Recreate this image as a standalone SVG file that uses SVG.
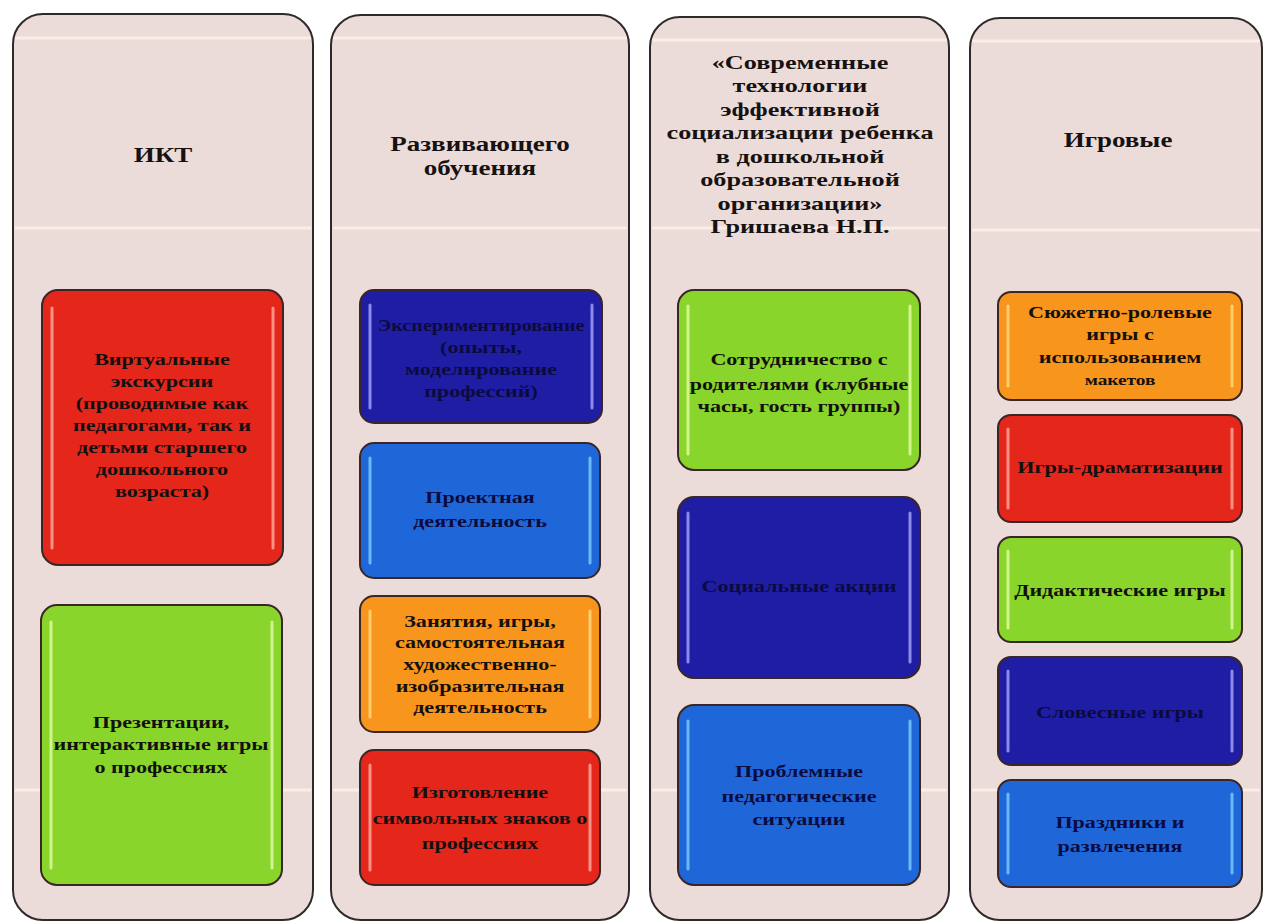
<svg xmlns="http://www.w3.org/2000/svg" width="1264" height="923" viewBox="0 0 1264 923">
<style>
.panel{fill:#ecdcd9;stroke:#2e2a2a;stroke-width:2}
.band{stroke:#fbf3ea;stroke-width:3;opacity:.8}
.box{stroke:#3a2626;stroke-width:2}
.hl{stroke-width:3;stroke-linecap:round;opacity:.75}
.red{fill:#e4261b}.grn{fill:#8ad52b}.dbl{fill:#1f1da4}.lbl{fill:#1f67d9}.org{fill:#f8951c}
.t{font-family:"Liberation Serif","Times New Roman",serif;font-weight:bold;font-size:16px;fill:#141010;text-anchor:middle}
.td{fill:#0c0b40}
.h{font-family:"Liberation Serif","Times New Roman",serif;font-weight:bold;font-size:20px;fill:#161212;text-anchor:middle}
</style>
<rect width="1264" height="923" fill="#ffffff"/>
<g id="col-ikt">
<rect class="panel" x="13" y="14" width="300" height="906" rx="30"/>
<line class="band" x1="15" y1="38" x2="311" y2="38"/><line class="band" x1="15" y1="228" x2="311" y2="228"/><line class="band" x1="15" y1="790" x2="311" y2="790"/>
<text class="h" transform="translate(163 0) scale(1.35 1)"><tspan x="0" y="162">ИКТ</tspan></text>
</g>
<g id="col-dev">
<rect class="panel" x="331" y="15" width="298" height="905" rx="30"/>
<line class="band" x1="333" y1="38" x2="627" y2="38"/><line class="band" x1="333" y1="228" x2="627" y2="228"/><line class="band" x1="333" y1="790" x2="627" y2="790"/>
<text class="h" transform="translate(480 0) scale(1.35 1)"><tspan x="0" y="151">Развивающего</tspan><tspan x="0" y="175">обучения</tspan></text>
</g>
<g id="col-soc">
<rect class="panel" x="650" y="17" width="299" height="903" rx="30"/>
<line class="band" x1="652" y1="40" x2="947" y2="40"/><line class="band" x1="652" y1="228" x2="947" y2="228"/><line class="band" x1="652" y1="790" x2="947" y2="790"/>
<text class="h" style="font-size:19px" transform="translate(800 0) scale(1.38 1)"><tspan x="0" y="69">«Современные</tspan><tspan x="0" y="92">технологии</tspan><tspan x="0" y="116">эффективной</tspan><tspan x="0" y="139">социализации ребенка</tspan><tspan x="0" y="163">в дошкольной</tspan><tspan x="0" y="186">образовательной</tspan><tspan x="0" y="210">организации»</tspan><tspan x="0" y="233">Гришаева Н.П.</tspan></text>
</g>
<g id="col-game">
<rect class="panel" x="970" y="18" width="292" height="902" rx="30"/>
<line class="band" x1="972" y1="41" x2="1260" y2="41"/><line class="band" x1="972" y1="230" x2="1260" y2="230"/><line class="band" x1="972" y1="790" x2="1260" y2="790"/>
<text class="h" transform="translate(1118 0) scale(1.35 1)"><tspan x="0" y="147">Игровые</tspan></text>
</g>

<g id="ikt-virtual">
<rect class="box red" x="42" y="290" width="241" height="275" rx="16"/>
<line class="hl" stroke="#ffb8a8" x1="52" y1="308" x2="52" y2="548"/><line class="hl" stroke="#ffb8a8" x1="273" y1="308" x2="273" y2="548"/>
<text class="t" transform="translate(162 0) scale(1.38 1)"><tspan x="0" y="365">Виртуальные</tspan><tspan x="0" y="387">экскурсии</tspan><tspan x="0" y="409">(проводимые как</tspan><tspan x="0" y="431">педагогами, так и</tspan><tspan x="0" y="453">детьми старшего</tspan><tspan x="0" y="475">дошкольного</tspan><tspan x="0" y="497">возраста)</tspan></text>
</g>
<g id="ikt-present">
<rect class="box grn" x="41" y="605" width="241" height="280" rx="16"/>
<line class="hl" stroke="#e8ffb0" x1="51" y1="622" x2="51" y2="868"/><line class="hl" stroke="#e8ffb0" x1="272" y1="622" x2="272" y2="868"/>
<text class="t" transform="translate(161 0) scale(1.38 1)"><tspan x="0" y="728">Презентации,</tspan><tspan x="0" y="750">интерактивные игры</tspan><tspan x="0" y="773">о профессиях</tspan></text>
</g>

<g id="dev-exp">
<rect class="box dbl" x="360" y="290" width="242" height="133" rx="14"/>
<line class="hl" stroke="#b0b0ff" x1="370" y1="305" x2="370" y2="408"/><line class="hl" stroke="#b0b0ff" x1="592" y1="305" x2="592" y2="408"/>
<text class="t td" transform="translate(481 0) scale(1.38 1)"><tspan x="0" y="331" textLength="150" lengthAdjust="spacingAndGlyphs">Экспериментирование</tspan><tspan x="0" y="353">(опыты,</tspan><tspan x="0" y="375">моделирование</tspan><tspan x="0" y="397">профессий)</tspan></text>
</g>
<g id="dev-project">
<rect class="box lbl" x="360" y="443" width="240" height="135" rx="14"/>
<line class="hl" stroke="#7fd8ff" x1="370" y1="458" x2="370" y2="563"/><line class="hl" stroke="#7fd8ff" x1="590" y1="458" x2="590" y2="563"/>
<text class="t td" transform="translate(480 0) scale(1.38 1)"><tspan x="0" y="503">Проектная</tspan><tspan x="0" y="527">деятельность</tspan></text>
</g>
<g id="dev-art">
<rect class="box org" x="360" y="596" width="240" height="136" rx="14"/>
<line class="hl" stroke="#ffe08a" x1="370" y1="611" x2="370" y2="717"/><line class="hl" stroke="#ffe08a" x1="590" y1="611" x2="590" y2="717"/>
<text class="t" transform="translate(480 0) scale(1.38 1)"><tspan x="0" y="627">Занятия, игры,</tspan><tspan x="0" y="648">самостоятельная</tspan><tspan x="0" y="670">художественно-</tspan><tspan x="0" y="692">изобразительная</tspan><tspan x="0" y="713">деятельность</tspan></text>
</g>
<g id="dev-signs">
<rect class="box red" x="360" y="750" width="240" height="135" rx="14"/>
<line class="hl" stroke="#ffb8a8" x1="370" y1="765" x2="370" y2="870"/><line class="hl" stroke="#ffb8a8" x1="590" y1="765" x2="590" y2="870"/>
<text class="t" transform="translate(480 0) scale(1.38 1)"><tspan x="0" y="798">Изготовление</tspan><tspan x="0" y="824">символьных знаков о</tspan><tspan x="0" y="849">профессиях</tspan></text>
</g>

<g id="soc-parents">
<rect class="box grn" x="678" y="290" width="242" height="180" rx="16"/>
<line class="hl" stroke="#e8ffb0" x1="688" y1="306" x2="688" y2="454"/><line class="hl" stroke="#e8ffb0" x1="910" y1="306" x2="910" y2="454"/>
<text class="t" transform="translate(799 0) scale(1.38 1)"><tspan x="0" y="365">Сотрудничество с</tspan><tspan x="0" y="390">родителями (клубные</tspan><tspan x="0" y="412">часы, гость группы)</tspan></text>
</g>
<g id="soc-actions">
<rect class="box dbl" x="678" y="497" width="242" height="181" rx="16"/>
<line class="hl" stroke="#b0b0ff" x1="688" y1="513" x2="688" y2="662"/><line class="hl" stroke="#b0b0ff" x1="910" y1="513" x2="910" y2="662"/>
<text class="t td" transform="translate(799 0) scale(1.38 1)"><tspan x="0" y="592">Социальные акции</tspan></text>
</g>
<g id="soc-problems">
<rect class="box lbl" x="678" y="705" width="242" height="180" rx="16"/>
<line class="hl" stroke="#7fd8ff" x1="688" y1="721" x2="688" y2="869"/><line class="hl" stroke="#7fd8ff" x1="910" y1="721" x2="910" y2="869"/>
<text class="t td" transform="translate(799 0) scale(1.38 1)"><tspan x="0" y="777">Проблемные</tspan><tspan x="0" y="802">педагогические</tspan><tspan x="0" y="825">ситуации</tspan></text>
</g>

<g id="game-role">
<rect class="box org" x="998" y="292" width="244" height="108" rx="13"/>
<line class="hl" stroke="#ffe08a" x1="1008" y1="306" x2="1008" y2="386"/><line class="hl" stroke="#ffe08a" x1="1232" y1="306" x2="1232" y2="386"/>
<text class="t" transform="translate(1120 0) scale(1.38 1)"><tspan x="0" y="318">Сюжетно-ролевые</tspan><tspan x="0" y="340">игры с</tspan><tspan x="0" y="363">использованием</tspan><tspan x="0" y="385" style="font-size:14px">макетов</tspan></text>
</g>
<g id="game-drama">
<rect class="box red" x="998" y="415" width="244" height="107" rx="13"/>
<line class="hl" stroke="#ffb8a8" x1="1008" y1="429" x2="1008" y2="508"/><line class="hl" stroke="#ffb8a8" x1="1232" y1="429" x2="1232" y2="508"/>
<text class="t" transform="translate(1120 0) scale(1.38 1)"><tspan x="0" y="473">Игры-драматизации</tspan></text>
</g>
<g id="game-didactic">
<rect class="box grn" x="998" y="537" width="244" height="105" rx="13"/>
<line class="hl" stroke="#e8ffb0" x1="1008" y1="551" x2="1008" y2="628"/><line class="hl" stroke="#e8ffb0" x1="1232" y1="551" x2="1232" y2="628"/>
<text class="t" transform="translate(1120 0) scale(1.38 1)"><tspan x="0" y="596">Дидактические игры</tspan></text>
</g>
<g id="game-word">
<rect class="box dbl" x="998" y="657" width="244" height="108" rx="13"/>
<line class="hl" stroke="#b0b0ff" x1="1008" y1="671" x2="1008" y2="751"/><line class="hl" stroke="#b0b0ff" x1="1232" y1="671" x2="1232" y2="751"/>
<text class="t td" transform="translate(1120 0) scale(1.38 1)"><tspan x="0" y="718">Словесные игры</tspan></text>
</g>
<g id="game-holidays">
<rect class="box lbl" x="998" y="780" width="244" height="107" rx="13"/>
<line class="hl" stroke="#7fd8ff" x1="1008" y1="794" x2="1008" y2="873"/><line class="hl" stroke="#7fd8ff" x1="1232" y1="794" x2="1232" y2="873"/>
<text class="t td" transform="translate(1120 0) scale(1.38 1)"><tspan x="0" y="828">Праздники и</tspan><tspan x="0" y="852">развлечения</tspan></text>
</g>
<g id="connectors"/>
</svg>
